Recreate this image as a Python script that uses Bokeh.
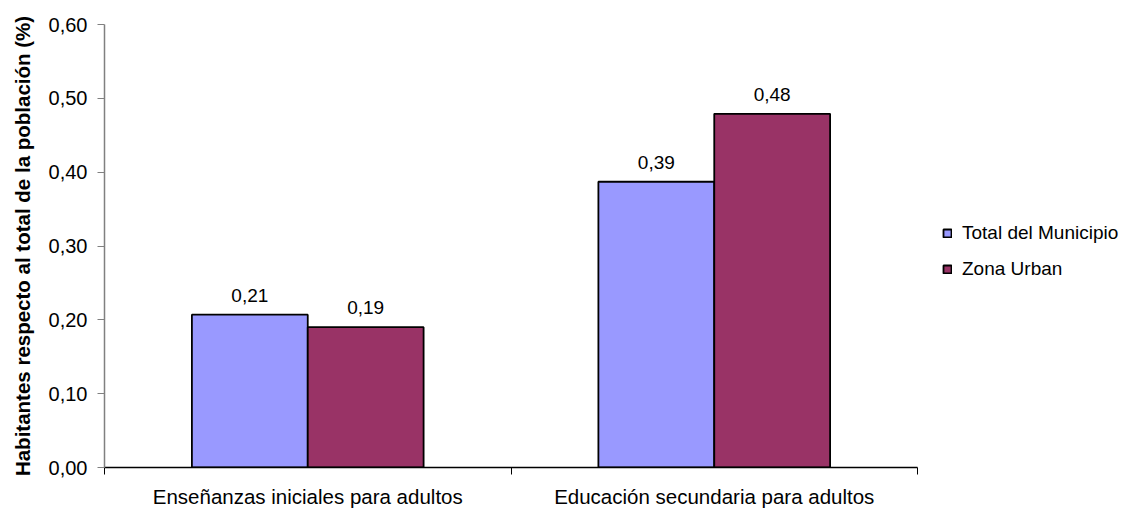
from bokeh.plotting import figure
from bokeh.models import (ColumnDataSource, FixedTicker, CustomJSTickFormatter, Range1d,
                          Legend, LegendItem, LabelSet)
from bokeh.core.properties import value
from bokeh.embed import file_html
from bokeh.resources import INLINE

categories = ["Enseñanzas iniciales para adultos", "Educación secundaria para adultos"]
series_names = ["Total del Municipio", "Zona Urban"]
total_municipio = [0.207, 0.387]
zona_urban = [0.190, 0.479]
colors = ["#9999FF", "#993366"]
y_ticks = [0.0, 0.1, 0.2, 0.3, 0.4, 0.5, 0.6]

FONT = "Liberation Sans"
bar_w = 0.285

# layout (pixels)
W, H = 1129, 510
LEFT, TOP, BOTTOM = 104, 24, 30
AXIS_RIGHT = 917          # where the category axis ends
frame_w = W - LEFT
n = len(categories)
x_end = n * frame_w / (AXIS_RIGHT - LEFT)   # extra room to the right for the legend

p = figure(width=W, height=H, output_backend="svg", toolbar_location=None,
           x_range=Range1d(0, x_end), y_range=Range1d(0, 0.6),
           min_border_left=LEFT, min_border_right=0, min_border_top=TOP, min_border_bottom=BOTTOM)
p.outline_line_color = None
p.xgrid.visible = False
p.ygrid.visible = False
p.background_fill_color = "white"

renderers = []
for k, (vals, col) in enumerate(zip([total_municipio, zona_urban], colors)):
    off = (k - 0.5) * bar_w
    xs = [i + 0.5 + off for i in range(n)]
    src = ColumnDataSource(dict(x=xs, top=vals,
                                lab=[f"{v:.2f}".replace(".", ",") for v in vals]))
    r = p.vbar(x="x", top="top", width=bar_w, bottom=0, source=src,
               fill_color=col, line_color="black", line_width=1.8)
    renderers.append(r)
    labels = LabelSet(x="x", y="top", text="lab", source=src, text_align="center",
                      text_baseline="bottom", y_offset=13, text_font=value(FONT),
                      text_font_size="19px", text_color="black")
    p.add_layout(labels)

# x axis
p.xaxis.bounds = (0, n)
p.xaxis.ticker = FixedTicker(ticks=[i + 0.5 for i in range(n)],
                             minor_ticks=list(range(n + 1)))
p.xaxis.major_label_overrides = {i + 0.5: c for i, c in enumerate(categories)}
p.xaxis.major_tick_out = 0
p.xaxis.major_tick_in = 0
p.xaxis.minor_tick_out = 7
p.xaxis.minor_tick_in = 0
p.xaxis.minor_tick_line_color = "black"
p.xaxis.axis_line_color = "black"
p.xaxis.axis_line_width = 1.5
p.xaxis.major_label_text_font = FONT
p.xaxis.major_label_text_font_size = "20.5px"
p.xaxis.major_label_text_color = "black"
p.xaxis.major_label_standoff = 10

# y axis
p.yaxis.ticker = FixedTicker(ticks=y_ticks, minor_ticks=[])
p.yaxis.formatter = CustomJSTickFormatter(code="return tick.toFixed(2).replace('.', ',');")
p.yaxis.major_tick_out = 7
p.yaxis.major_tick_in = 0
p.yaxis.axis_line_color = "#808080"
p.yaxis.major_tick_line_color = "#808080"
p.yaxis.axis_line_width = 1.5
p.yaxis.major_label_text_font = FONT
p.yaxis.major_label_text_font_size = "20px"
p.yaxis.major_label_text_color = "black"
p.yaxis.major_label_standoff = 10
p.yaxis.axis_label = "Habitantes respecto al total de la población (%)"
p.yaxis.axis_label_text_font = FONT
p.yaxis.axis_label_text_font_size = "20.5px"
p.yaxis.axis_label_text_font_style = "bold"
p.yaxis.axis_label_text_color = "black"
p.yaxis.axis_label_standoff = 12

legend = Legend(items=[LegendItem(label=s, renderers=[r]) for s, r in zip(series_names, renderers)],
                location=(942 - LEFT, 187), padding=0, margin=0, spacing=14,
                glyph_width=10, glyph_height=10, label_height=20, label_standoff=10,
                border_line_color=None, background_fill_alpha=0,
                label_text_font=FONT, label_text_font_size="19px", label_text_color="black")
p.add_layout(legend)

open("out.html", "w").write(file_html(p, INLINE))
